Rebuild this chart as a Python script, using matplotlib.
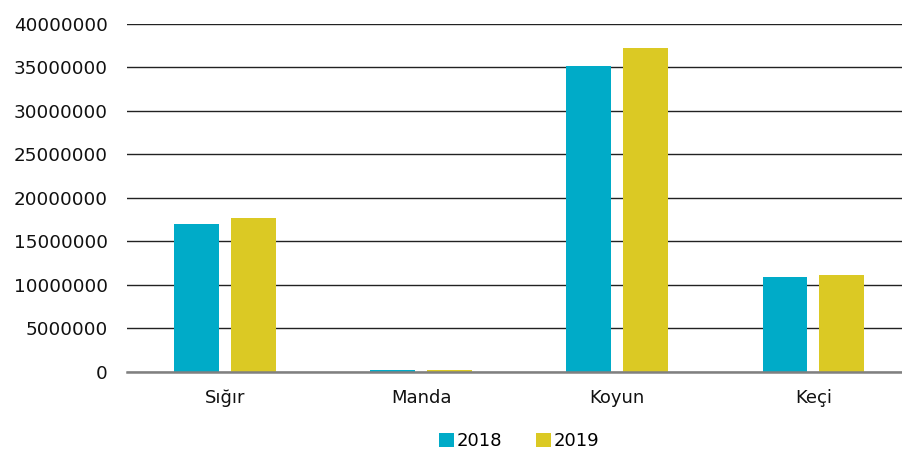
import matplotlib.pyplot as plt
import numpy as np
from matplotlib.ticker import FuncFormatter

# hayvan sayilari (bas)
turler = ['Sığır', 'Manda', 'Koyun', 'Keçi']
yil_2018 = [17042506, 178397, 35194731, 10922427]
yil_2019 = [17688650, 184192, 37276781, 11205167]
yillar = ['2018', '2019']
renkler = ['#00ABC8', '#DBC924']

plt.rcParams['font.family'] = ['DejaVu Sans']

fig = plt.figure(figsize=(9.02, 4.57), dpi=100)
ax = fig.add_axes([0.1408, 0.186, 0.8697, 0.7615])

x = np.arange(len(turler))
w = 0.229
ax.bar(x - 0.145, yil_2018, w, color=renkler[0], label=yillar[0], zorder=3)
ax.bar(x + 0.145, yil_2019, w, color=renkler[1], label=yillar[1], zorder=3)

ax.set_xlim(-0.5, len(turler) - 0.5)
ax.set_ylim(0, 40000000)
ax.set_yticks(np.arange(0, 40000001, 5000000))
ax.yaxis.set_major_formatter(FuncFormatter(lambda v, p: '%d' % v))
ax.set_xticks(x)
ax.set_xticklabels(turler)

ax.grid(axis='y', color='#222222', linewidth=1.0, zorder=0)
for s in ['top', 'right', 'left']:
    ax.spines[s].set_visible(False)
ax.spines['bottom'].set_color('#808080')
ax.spines['bottom'].set_linewidth(1.8)
ax.spines['bottom'].set_zorder(4)
ax.tick_params(axis='y', length=0, pad=14, labelsize=13.2, colors='#111111')
ax.tick_params(axis='x', length=0, pad=12, labelsize=13, colors='#111111')

fig.legend(loc='center', bbox_to_anchor=(519 / 902, 16 / 457), ncol=2, frameon=False,
           fontsize=13, handlelength=0.8, handleheight=0.85, handletextpad=0.15,
           columnspacing=1.9, borderaxespad=0)

plt.savefig('out.png', dpi=100)
